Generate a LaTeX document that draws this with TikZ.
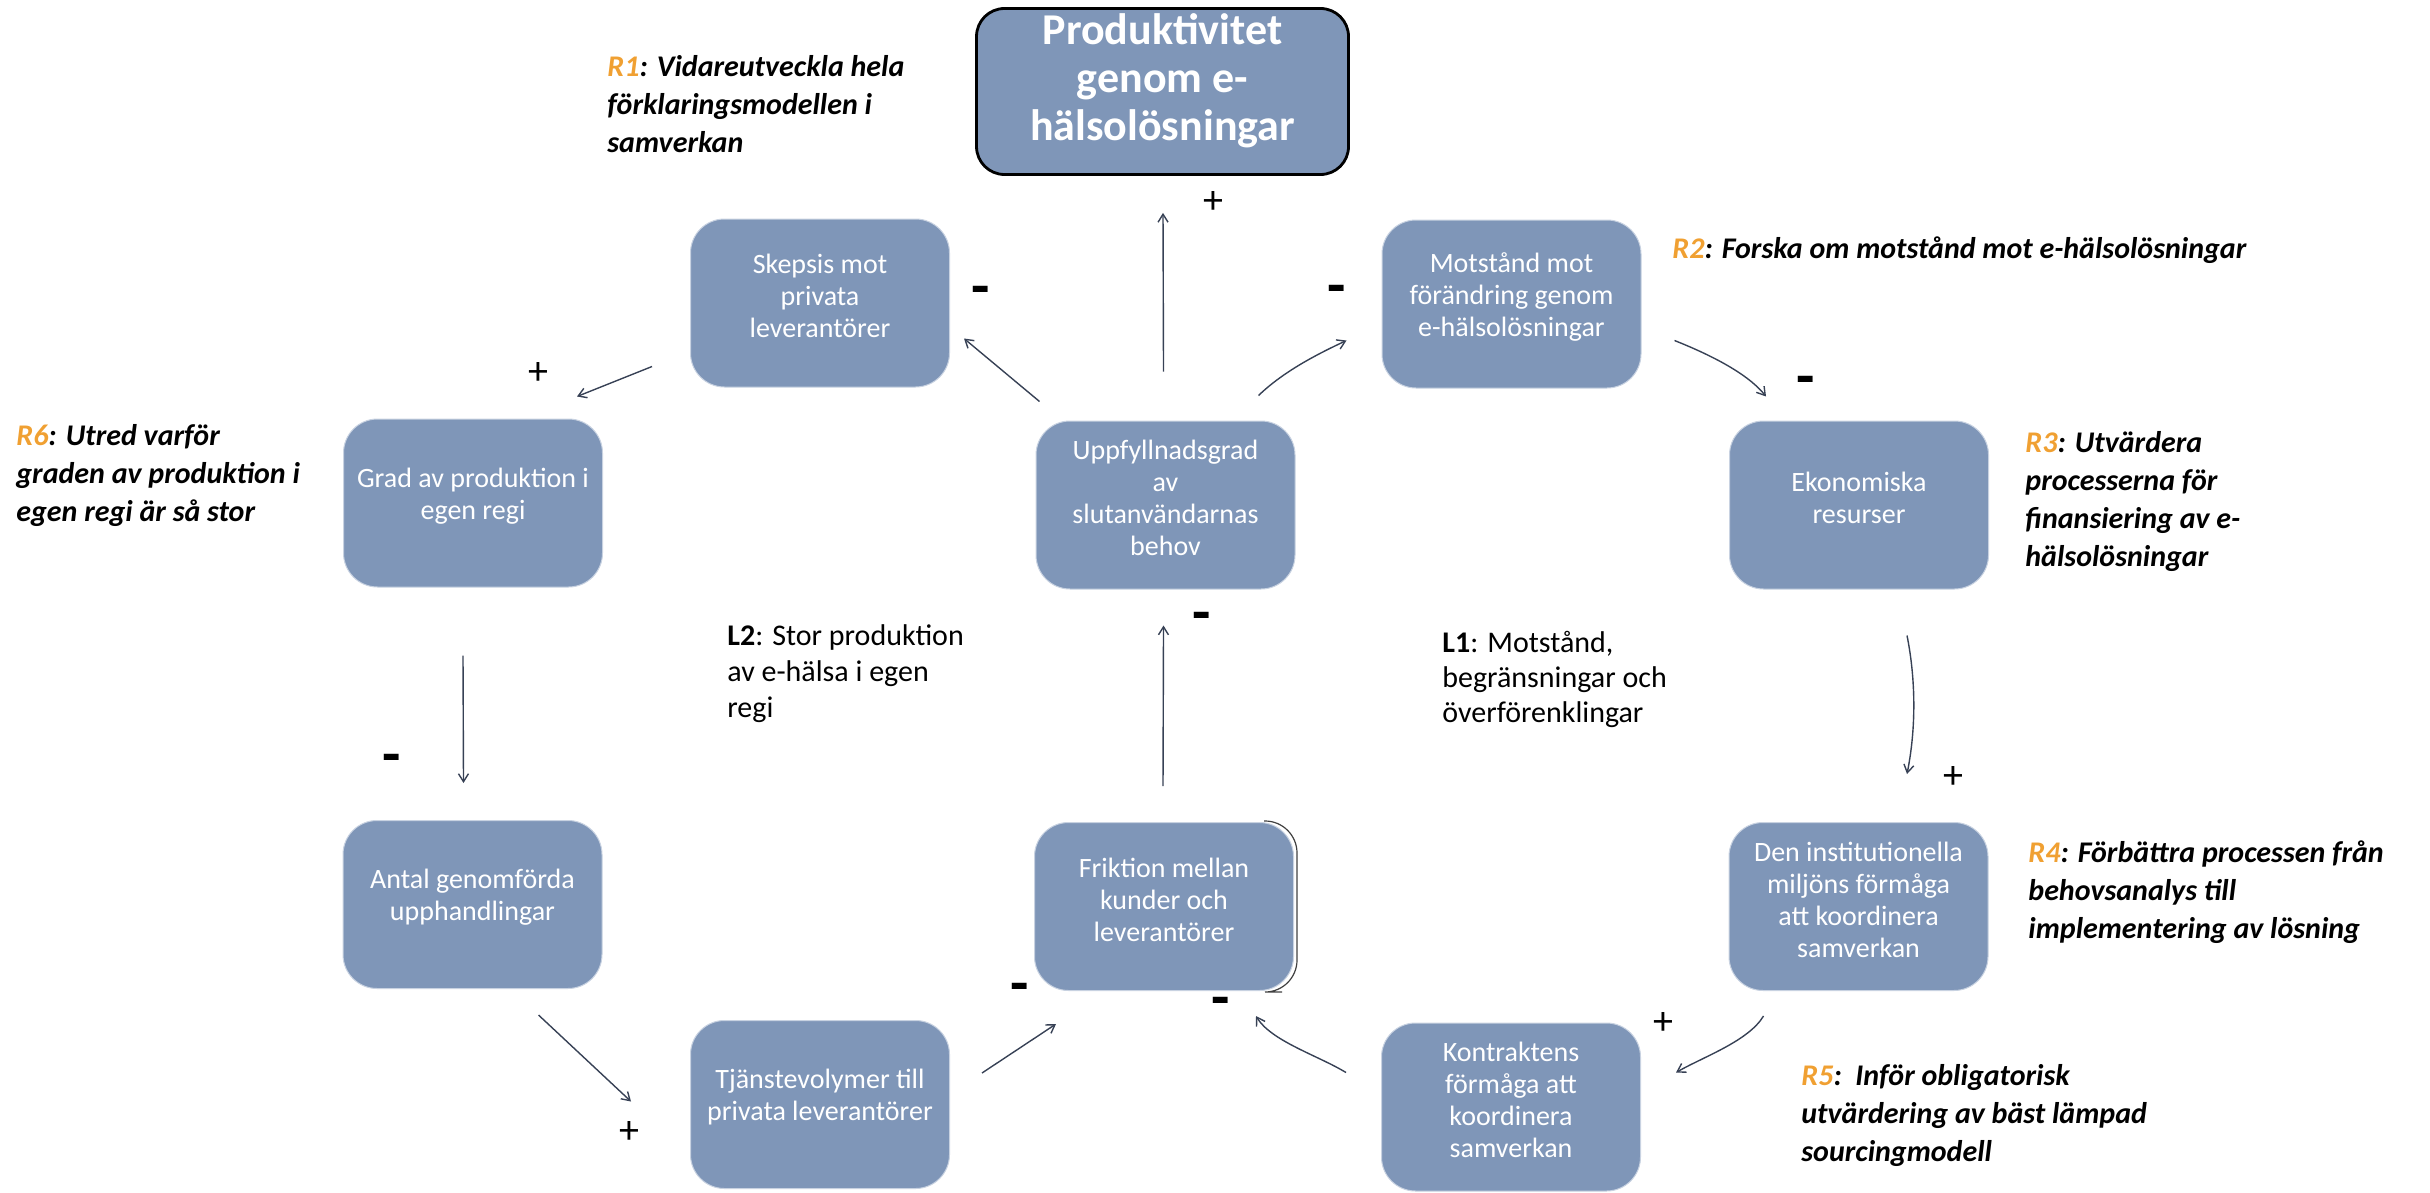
\documentclass[tikz,border=0pt]{standalone}
\usepackage{fontspec}
\setmainfont{Carlito}
\usetikzlibrary{arrows.meta,calc}
\definecolor{boxblue}{RGB}{127,150,184}
\definecolor{rimblue}{RGB}{200,210,225}
\definecolor{rorange}{RGB}{240,160,50}
\definecolor{lncol}{RGB}{55,65,85}
\begin{document}
\begin{tikzpicture}[x=0.5pt,y=-0.5pt,
  box/.style={draw=rimblue, line width=0.5pt, fill=boxblue, rounded corners=17pt,
    minimum width=129.5pt, minimum height=84pt, inner sep=0pt},
  topbox/.style={draw=black, line width=1.4pt, fill=boxblue, rounded corners=14pt,
    minimum width=186pt, minimum height=83pt, inner sep=0pt},
  btxt/.style={text=white, font=\fontsize{14pt}{16pt}\selectfont, align=center, inner sep=0pt},
  toptxt/.style={text=white, font=\fontsize{22pt}{24pt}\selectfont\bfseries, align=center, inner sep=0pt},
  rtxt/.style={font=\fontsize{15pt}{19pt}\selectfont\bfseries\itshape, align=left, inner sep=0pt, anchor=north west},
  ltxt/.style={font=\fontsize{15pt}{17.5pt}\selectfont, align=left, inner sep=0pt, anchor=north west},
  arr/.style={draw=lncol, line width=0.7pt, -{Straight Barb[length=4pt,width=5pt]}},
  plussign/.style={font=\fontsize{20pt}{20pt}\selectfont, inner sep=0pt},
  minussign/.style={font=\fontsize{30pt}{30pt}\selectfont\bfseries, inner sep=0pt, anchor=base}
]
\useasboundingbox (0,0) rectangle (2430,1193);

% boxes
\node[topbox, label={[toptxt, yshift=5.5pt]center:Produktivitet\\genom e-\\hälsolösningar}] (pr) at (1162.5,91.5) {};
\node[box, label={[btxt, yshift=3.5pt]center:Skepsis mot\\privata\\leverantörer}] (sk) at (820,303) {};
\node[box, label={[btxt, yshift=3.5pt]center:Motstånd mot\\förändring genom\\e-hälsolösningar}] (mo) at (1511.5,304) {};
\node[box, label={[btxt, yshift=3.5pt]center:Grad av produktion i\\egen regi}] (gr) at (473,503) {};
\node[box, label={[btxt, yshift=3.5pt]center:Uppfyllnadsgrad\\av\\slutanvändarnas\\behov}] (up) at (1165.5,505) {};
\node[box, label={[btxt, yshift=3.5pt]center:Ekonomiska\\resurser}] (ek) at (1859,505) {};
\node[box, label={[btxt, yshift=3.5pt]center:Antal genomförda\\upphandlingar}] (an) at (472.5,904.5) {};
\node[box, label={[btxt, yshift=3.5pt]center:Friktion mellan\\kunder och\\leverantörer}] (fr) at (1164,906.5) {};
\node[box, label={[btxt, yshift=3.5pt]center:Den institutionella\\miljöns förmåga\\att koordinera\\samverkan}] (de) at (1858.5,906.5) {};
\node[box, label={[btxt, yshift=3.5pt]center:Tjänstevolymer till\\privata leverantörer}] (tj) at (820,1104.5) {};
\node[box, label={[btxt, yshift=3.5pt]center:Kontraktens\\förmåga att\\koordinera\\samverkan}] (ko) at (1511,1107) {};

% shadow edge on Friktion box
\draw[black!75, line width=0.6pt, rounded corners=16pt]
  ($(fr.north east)+(-30,-1)$) -- ($(fr.north east)+(3,-1)$) -- ($(fr.south east)+(3,1)$) -- ($(fr.south east)+(-12,1)$);

% connectors
\draw[arr] ($(up.north)+(-2,-49)$) -- ($(pr.south)+(0.5,37)$);
\draw[arr] ($(up.north west)+(4,-19)$) -- ($(sk.south east)+(14,-49)$);
\draw[arr] ($(up.north east)+(-37,-25)$) .. controls +(25,-24) and +(-30,14) .. ($(mo.south west)+(-35,-48)$);
\draw[arr] ($(mo.south east)+(33,-48)$) .. controls +(30,12) and +(-20,-25) .. ($(ek.north west)+(37,-24)$);
\draw[arr] ($(ek.south)+(48,46)$) .. controls +(9,45) and +(9,-45) .. ($(de.north)+(48.5,-48)$);
\draw[arr] ($(de.south west)+(35,25)$) .. controls +(-15,25) and +(28,-16) .. ($(ko.north east)+(35,50)$);
\draw[arr] ($(ko.north west)+(-35,50)$) .. controls +(-28,-17) and +(15,25) .. ($(fr.south east)+(-38,25)$);
\draw[arr] ($(fr.north)+(-1,-36)$) -- ($(up.south)+(-2,36)$);
\draw[arr] ($(tj.east)+(32,-31.5)$) -- ($(fr.south west)+(22,33)$);
\draw[arr] ($(an.south east)+(-64,26)$) -- ($(tj.west)+(-59,-3)$);
\draw[arr] ($(gr.south)+(-10,68)$) -- ($(an.north)+(-9,-37)$);
\draw[arr] ($(sk.south west)+(-38,-21)$) -- ($(gr.north east)+(-26,-22)$);

% polarity signs
\node[plussign] (p1) at (1213,203) {+};
\node[minussign] (m1) at (981,306) {-};
\node[minussign] (m2) at (1337,305) {-};
\node[minussign] (m3) at (1806,396) {-};
\node[plussign] (p2) at (538,374) {+};
\node[minussign] (m4) at (392,774) {-};
\node[plussign] (p3) at (629,1132) {+};
\node[minussign] (m5) at (1020,1003) {-};
\node[minussign] (m6) at (1221,1017) {-};
\node[plussign] (p4) at (1663,1023) {+};
\node[plussign] (p5) at (1953,777) {+};
\node[minussign] (m7) at (1202,632) {-};

% recommendation texts
\node[rtxt] (r1) at (607,55) {\textcolor{rorange}{R1}: Vidareutveckla hela\\förklaringsmodellen i\\samverkan};
\node[rtxt] (r2) at (1672,236) {\textcolor{rorange}{R2}: Forska om motstånd mot e-hälsolösningar};
\node[rtxt] (r3) at (2025,431) {\textcolor{rorange}{R3}: Utvärdera\\processerna för\\finansiering av e-\\hälsolösningar};
\node[rtxt] (r4) at (2028,840) {\textcolor{rorange}{R4}: Förbättra processen från\\behovsanalys till\\implementering av lösning};
\node[rtxt] (r5) at (1801,1064) {\textcolor{rorange}{R5}:\ \ Inför obligatorisk\\utvärdering av bäst lämpad\\sourcingmodell};
\node[rtxt] (r6) at (16,424) {\textcolor{rorange}{R6}: Utred varför\\graden av produktion i\\egen regi är så stor};

% loop texts
\node[ltxt] (l1) at (1442,631) {\textbf{L1}: Motstånd,\\begränsningar och\\överförenklingar};
\node[ltxt, font=\fontsize{15pt}{18pt}\selectfont] (l2) at (727,624) {\textbf{L2}: Stor produktion\\av e-hälsa i egen\\regi};
\end{tikzpicture}
\end{document}
